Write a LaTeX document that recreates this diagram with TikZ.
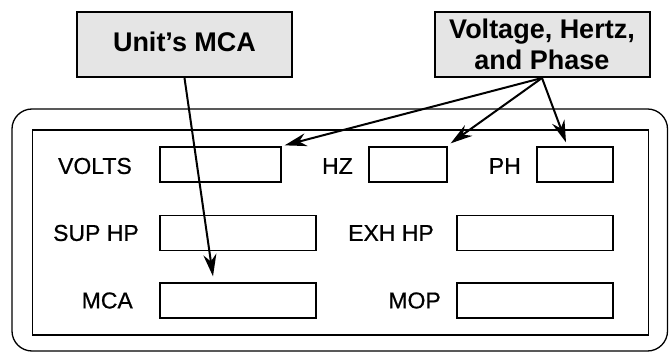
\documentclass[tikz,border=0pt]{standalone}
\usepackage{fontspec}
\setmainfont{Liberation Sans}
\newfontfamily\medfont{Liberation Sans}[BoldFont={Liberation Sans}, BoldFeatures={FakeBold=0.6}]
\usetikzlibrary{arrows.meta, calc}

\begin{document}
\begin{tikzpicture}[x=1pt, y=-1pt,
  field/.style={draw, line width=1.3pt, minimum height=35pt, inner sep=0pt},
  fieldlabel/.style={anchor=east, inner sep=0pt, font=\medfont\bfseries\fontsize{23}{27}\selectfont},
  callout/.style={draw, line width=2pt, fill=black!10, align=center,
    minimum width=215pt, minimum height=65pt, inner sep=0pt,
    font=\bfseries\fontsize{27}{31}\selectfont},
  pointer/.style={line width=2pt, -{Stealth[length=22pt, width=13pt, inset=7pt]}},
]
  \useasboundingbox (0,0) rectangle (669,352);
  % nameplate frame
  \draw[line width=1.3pt, rounded corners=20pt] (12,109) rectangle (667.5,351);
  \draw[line width=1.3pt] (32.5,130) rectangle (648.5,335);
  % fields
  \node[field, minimum width=121pt] (volts) at (220.5,164.5) {};
  \node[field, minimum width=78pt]  (hz)    at (408,164.5) {};
  \node[field, minimum width=76pt]  (ph)    at (575,164.5) {};
  \node[field, minimum width=156pt] (sup)   at (238,233) {};
  \node[field, minimum width=156pt] (exh)   at (535,233) {};
  \node[field, minimum width=156pt] (mca)   at (238,300.5) {};
  \node[field, minimum width=156pt] (mop)   at (535,300.5) {};
  \node[fieldlabel] (lvolts) at (132,166) {VOLTS};
  \node[fieldlabel] (lhz)    at (353,166) {HZ};
  \node[fieldlabel] (lph)    at (521,166) {PH};
  \node[fieldlabel] (lsup)   at (139,233) {SUP HP};
  \node[fieldlabel] (lexh)   at (434,233) {EXH HP};
  \node[fieldlabel] (lmca)   at (133,300.5) {MCA};
  \node[fieldlabel] (lmop)   at (441,300.5) {MOP};
  % callouts
  \node[callout, text depth=6pt] (unit) at (184.5,44.5) {Unit’s MCA};
  \node[callout] (vhp)  at (542,44.5) {Voltage, Hertz,\\and Phase};
  \draw[pointer] (unit.south) -- ([xshift=-25pt, yshift=6pt]mca.north);
  \draw[pointer] (vhp.south) -- ([xshift=3pt, yshift=1pt]volts.north east);
  \draw[pointer] (vhp.south) -- ([xshift=3pt, yshift=3pt]hz.north east);
  \draw[pointer] (vhp.south) -- ([xshift=-9pt, yshift=4pt]ph.north);
\end{tikzpicture}
\end{document}
